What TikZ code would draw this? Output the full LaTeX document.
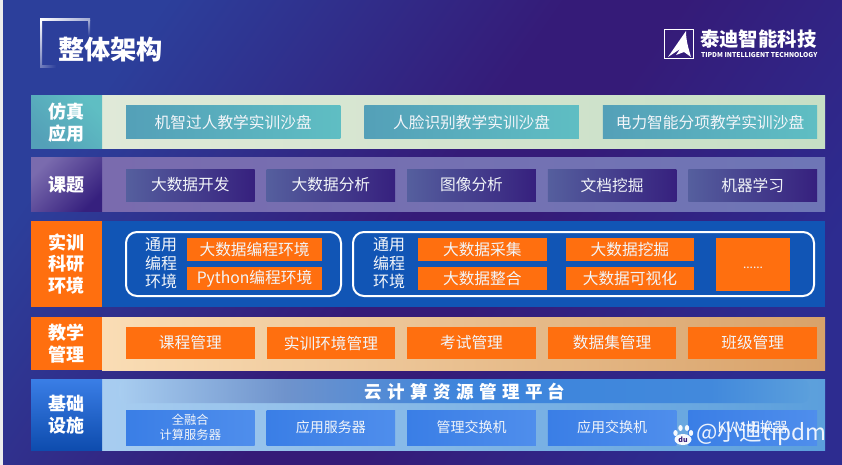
\documentclass[tikz,border=0pt]{standalone}
\usepackage{xcolor}
\usepackage{fontspec}
\usepackage{tikz}
\usetikzlibrary{positioning,calc}
\setmainfont{Noto Sans CJK SC}
\newfontfamily\cjk{Noto Sans CJK SC}
\newfontfamily\cjkwide[LetterSpace=31]{Noto Sans CJK SC}
\definecolor{orng}{HTML}{FF6F0F}
\definecolor{deep}{HTML}{1155B5}
\definecolor{txt}{HTML}{F2F5F9}
\definecolor{bgA}{HTML}{2C3F9B}
\definecolor{bgB}{HTML}{351B78}
\definecolor{bgC}{HTML}{2D2C90}
\definecolor{stripe}{HTML}{EDEDED}
\definecolor{tealA}{HTML}{54A0B8}
\definecolor{tealB}{HTML}{5FBEC3}
\definecolor{mintA}{HTML}{E0E9D8}
\definecolor{mintB}{HTML}{C6DFC5}
\definecolor{violA}{HTML}{555F9E}
\definecolor{violB}{HTML}{36207E}
\definecolor{lilacB}{HTML}{6E76B6}
\definecolor{lilacC}{HTML}{7A6BAE}
\definecolor{sandA}{HTML}{FADDB5}
\definecolor{sandB}{HTML}{D8A26A}
\definecolor{skyA}{HTML}{A8CDF0}
\definecolor{skyB}{HTML}{5B9FDC}
\definecolor{azA}{HTML}{3A7EE6}
\definecolor{azB}{HTML}{4F8EEC}
\definecolor{azC}{HTML}{0E4CAE}
\definecolor{barA}{HTML}{6F93CC}
\definecolor{barB}{HTML}{3C84DC}
\pgfdeclarehorizontalshading{bgdiag}{100bp}{color(0bp)=(bgA); color(25bp)=(bgA); color(49bp)=(bgB); color(56bp)=(bgB); color(75bp)=(bgC); color(100bp)=(bgC)}
\pgfdeclarehorizontalshading{platbar}{100bp}{color(0bp)=(skyA); color(25bp)=(skyA); color(37bp)=(barA); color(50bp)=(barB); color(68bp)=(barB!80!skyB); color(75bp)=(skyB); color(100bp)=(skyB)}

\begin{document}
\begin{tikzpicture}[x=1pt, y=-1pt, node distance=12pt, every node/.style={font=\cjk, text=txt, inner sep=0pt, outer sep=0pt, align=center},
  tag/.style={anchor=north west, minimum width=71pt, font=\cjk\bfseries\fontsize{18}{21.5}\selectfont, text=white},
  band/.style={anchor=north west, minimum width=723pt},
  itm/.style={minimum width=128.6pt, minimum height=32pt, font=\cjk\fontsize{15.7}{18}\selectfont},
  wide/.style={itm, minimum width=214.4pt, minimum height=33pt, left color=tealA, right color=tealB},
  viol/.style={itm, left color=violA, right color=violB},
  orngitm/.style={itm, fill=orng},
  azitm/.style={itm, minimum height=35pt, left color=azA, right color=azB, font=\cjk\fontsize{14}{16}\selectfont},
  env/.style={draw=white, line width=2pt, rounded corners=11pt, minimum height=64pt},
  envtxt/.style={font=\cjk\fontsize{16}{18.5}\selectfont},
  envitm/.style={itm, fill=orng, minimum height=23pt}]
\useasboundingbox (0,0) rectangle (842,465);
% background
\shade[shading=bgdiag, shading angle=-35] (0,0) rectangle (842,465);
\fill[stripe] (0,0) rectangle (3,465);
% title frame
\shade[left color=white, right color=white!55!bgA] (40,19) rectangle (90,21);
\shade[top color=white!55!bgA, bottom color=bgA] (88,21) rectangle (90,36);
\shade[top color=white, bottom color=white!30!bgA] (40,21) rectangle (42,68);
\shade[left color=white!30!bgA, right color=bgA] (42,66) rectangle (56,68);
\node[font=\cjk\bfseries\fontsize{26.2}{28}\selectfont, text=white, anchor=west] (title) at (58,50) {整体架构};
% logo
\node[draw=white, line width=0.8pt, minimum size=29pt, anchor=north west] (logo) at (664.5,29.5) {};
\fill[white] (686,31) -- (668,57) -- (680,49) -- (676,55) -- (684,52) -- (691,57) .. controls (688,47) and (686,40) .. cycle;
\node[font=\cjk\bfseries\fontsize{19.4}{22}\selectfont, text=white, anchor=west] (brand) at (700,39) {泰迪智能科技};
\node[font=\cjk\bfseries\fontsize{6.7}{8}\selectfont, text=white, anchor=west] (brandsub) at (701,55.5) {TIPDM INTELLIGENT TECHNOLOGY};
% simulation row
\node[band, minimum height=53pt, left color=mintA, right color=mintB] (simband) at (102,96) {};
\node[tag, minimum height=53pt, top color=tealB, bottom color=tealA, shading angle=-45] (simtag) at (31,96) {仿真\\应用};
\node[wide, anchor=north west] (sim1) at (126,106) {机智过人教学实训沙盘};
\node[wide, right=24pt of sim1] (sim2) {人脸识别教学实训沙盘};
\node[wide, right=24pt of sim2] (sim3) {电力智能分项教学实训沙盘};
% topic row
\node[band, minimum height=53pt, left color=lilacC, right color=lilacB] (topband) at (102,158) {};
\node[tag, minimum height=53pt, top color=lilacC, bottom color=violB, shading angle=45] (toptag) at (31,158) {课题};
\node[viol, anchor=north west] (top1) at (126,169) {大数据开发};
\node[viol, right=of top1] (top2) {大数据分析};
\node[viol, right=of top2] (top3) {图像分析};
\node[viol, right=of top3] (top4) {文档挖掘};
\node[viol, right=of top4] (top5) {机器学习};
% environment row
\node[band, minimum height=86pt, fill=deep] (envband) at (102,221) {};
\node[tag, minimum height=86pt, fill=orng] (envtag) at (31,221) {实训\\科研\\环境};
\node[env, minimum width=215pt, anchor=north west] (envbox1) at (126,232) {};
\node[env, minimum width=461pt, anchor=north west] (envbox2) at (353,232) {};
\node[envtxt] (envtxt1) at (161,263.5) {通用\\编程\\环境};
\node[envitm, minimum width=135pt, anchor=north west] (env1) at (187,238) {大数据编程环境};
\node[envitm, minimum width=135pt, below=6pt of env1] (env2) {Python编程环境};
\node[envtxt] (envtxt2) at (389,263.5) {通用\\编程\\环境};
\node[envitm, anchor=north west] (env3) at (418,238) {大数据采集};
\node[envitm, below=6pt of env3] (env4) {大数据整合};
\node[envitm, right=19pt of env3] (env5) {大数据挖掘};
\node[envitm, below=6pt of env5] (env6) {大数据可视化};
\node[fill=orng, minimum width=74pt, minimum height=53pt, anchor=north west, text height=8pt, text depth=0pt, font=\cjk\fontsize{12}{13}\selectfont] (env7) at (716,238) {......};
% teaching row
\node[band, minimum height=53pt, left color=sandA, right color=sandB] (teachband) at (102,317) {};
\node[tag, minimum height=53pt, fill=orng] (teachtag) at (31,317) {教学\\管理};
\node[orngitm, anchor=north west] (teach1) at (126,327) {课程管理};
\node[orngitm, right=of teach1] (teach2) {实训环境管理};
\node[orngitm, right=of teach2] (teach3) {考试管理};
\node[orngitm, right=of teach3] (teach4) {数据集管理};
\node[orngitm, right=of teach4] (teach5) {班级管理};
% base row
\node[band, minimum height=71pt, left color=skyA, right color=skyB] (baseband) at (102,379) {};
\node[tag, minimum height=71pt, top color=azA, bottom color=azC] (basetag) at (31,379) {基础\\设施};
\shade[shading=platbar, rounded corners=8pt] (119,379) rectangle (809,403);
\node[font=\cjkwide\bfseries\fontsize{17.5}{20}\selectfont, text=white] (plat) at (465,392) {云计算资源管理平台};
\node[azitm, anchor=north west, font=\cjk\fontsize{12.3}{14.5}\selectfont] (base1) at (126,410) {全融合\\计算服务器};
\node[azitm, right=of base1] (base2) {应用服务器};
\node[azitm, right=of base2] (base3) {管理交换机};
\node[azitm, right=of base3] (base4) {应用交换机};
\node[azitm, right=of base4] (base5) {KVM切换器};
% watermark
\fill[white, opacity=0.95] (675.5,433) ellipse (2.2pt and 3pt) (680.5,428) ellipse (2.2pt and 3pt) (687,428) ellipse (2.2pt and 3pt) (691,433) ellipse (2.2pt and 3pt) (683,439.5) ellipse (8.5pt and 5.5pt);
\node[font=\cjk\bfseries\fontsize{7}{8}\selectfont, text=bgB] (paw) at (683,440) {du};
\node[font=\cjk\fontsize{22.6}{26}\selectfont, text=white, opacity=0.9, anchor=west] (mark) at (696,434) {@小迪tipdm};
\end{tikzpicture}
\end{document}
